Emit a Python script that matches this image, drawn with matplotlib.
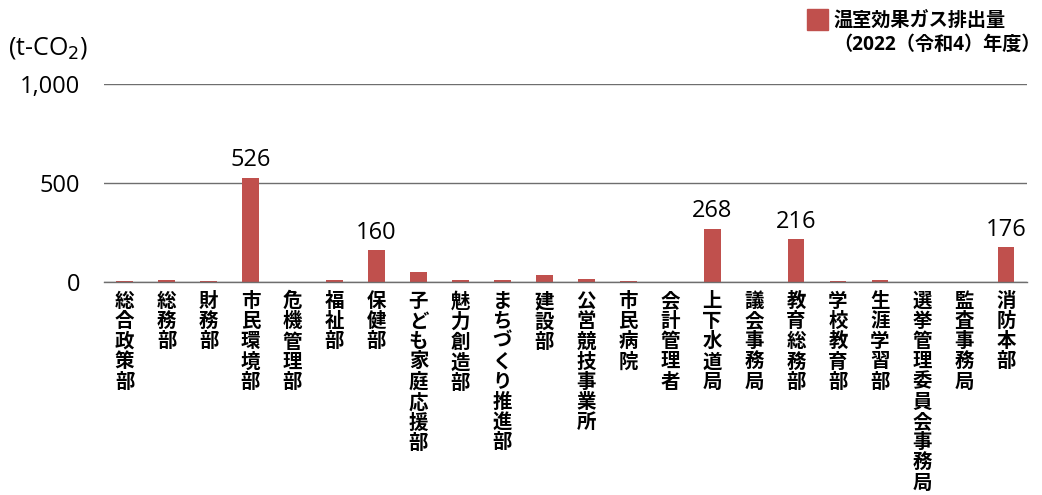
import matplotlib.pyplot as plt
from matplotlib.patches import Rectangle
import numpy as np

plt.rcParams['font.family'] = ['Open Sans', 'Noto Sans CJK JP', 'DejaVu Sans']

# 部局名
departments = ["総合政策部", "総務部", "財務部", "市民環境部", "危機管理部", "福祉部",
               "保健部", "子ども家庭応援部", "魅力創造部", "まちづくり推進部", "建設部",
               "公営競技事業所", "市民病院", "会計管理者", "上下水道局", "議会事務局",
               "教育総務部", "学校教育部", "生涯学習部", "選挙管理委員会事務局",
               "監査事務局", "消防本部"]
# 温室効果ガス排出量 (t-CO2)
emissions = [4, 10, 5, 526, 0, 9, 160, 49, 9, 9, 35, 15, 4, 0, 268, 0, 216, 3, 12, 0, 0, 176]
# 数値を表示する部局
labeled = ["市民環境部", "保健部", "上下水道局", "教育総務部", "消防本部"]

yticks = [0, 500, 1000]
ytick_labels = ["0", "500", "1,000"]
legend_label = "温室効果ガス排出量\n（2022（令和4）年度）"

bar_color = "#C0504D"
grid_color = "#6e6e6e"

fig = plt.figure(figsize=(10.42, 4.95), dpi=100)
ax = fig.add_axes([0.0995, 0.4303, 0.886, 0.40])

x = np.arange(len(departments))
bars = ax.bar(x, emissions, width=0.4, color=bar_color, zorder=3)

# 数値ラベル
for xi, dep, v in zip(x, departments, emissions):
    if dep in labeled:
        ax.annotate(f"{v}", (xi, v), xytext=(0, 4), textcoords="offset points",
                    ha="center", va="bottom", fontsize=17, fontweight="medium",
                    clip_on=False)

ax.set_xlim(-0.5, len(departments) - 0.5)
ax.set_ylim(0, 1000)
ax.set_yticks(yticks)
ax.set_yticklabels(ytick_labels, fontsize=17, fontweight="medium")
ax.yaxis.grid(True, color=grid_color, linewidth=1.0, zorder=0)
ax.tick_params(axis="y", length=0, pad=17)

ax.set_xticks(x)
ax.set_xticklabels(["\n".join(d) for d in departments], fontsize=14,
                   fontweight="bold", linespacing=1.08, va="top",
                   family=["Noto Sans CJK JP"])
ax.tick_params(axis="x", length=0, pad=7)

for s in ["top", "right", "left"]:
    ax.spines[s].set_visible(False)
ax.spines["bottom"].set_color(grid_color)
ax.spines["bottom"].set_linewidth(1.0)
ax.spines["bottom"].set_zorder(4)

# 単位
fig.text(0.008, 0.903, r"(t-CO$_2$)", fontsize=18, fontweight="medium", va="center")

# 凡例
fig.add_artist(Rectangle((807 / 1042, 1 - 30 / 495), 21 / 1042, 21 / 495,
                         transform=fig.transFigure, color=bar_color))
fig.text(833 / 1042, 1 - 33 / 495, legend_label, fontsize=13.8, fontweight="bold",
         va="center", ha="left", linespacing=1.25)

plt.savefig("out.png")
